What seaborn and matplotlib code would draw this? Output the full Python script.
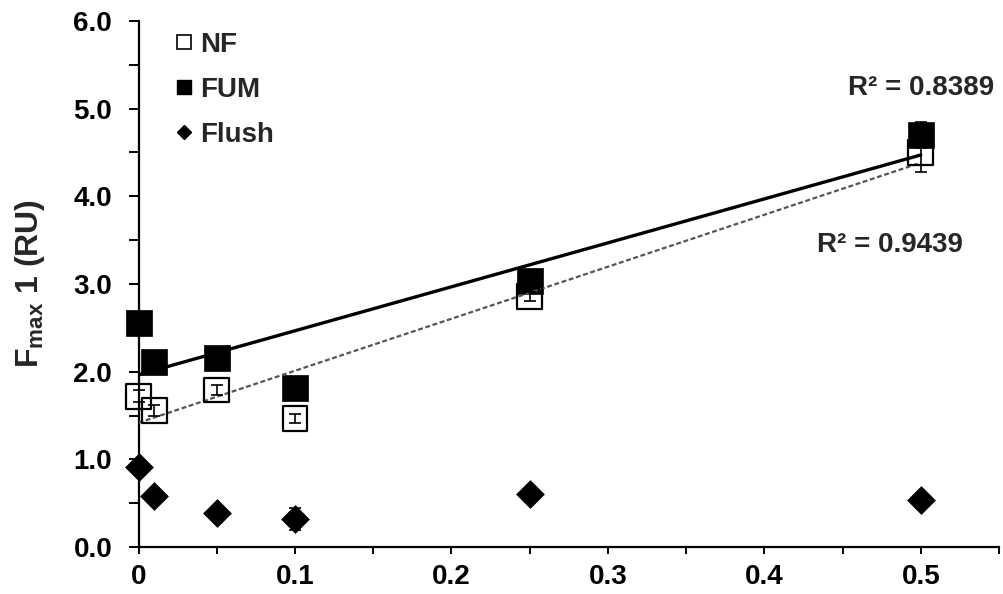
import numpy as np
import pandas as pd
import matplotlib
matplotlib.use("Agg")
import matplotlib.pyplot as plt
from matplotlib.lines import Line2D
import seaborn as sns

# Dose levels and Fmax 1 responses
dose = [0.0, 0.01, 0.05, 0.1, 0.25, 0.5]
nf_vals = [1.72, 1.56, 1.79, 1.47, 2.86, 4.50]
nf_err = [0.07, 0.065, 0.06, 0.05, 0.05, 0.22]
fum_vals = [2.55, 2.11, 2.15, 1.81, 3.03, 4.70]
fum_err = [0.08, 0.06, 0.07, 0.10, 0.12, 0.15]
flush_vals = [0.91, 0.58, 0.39, 0.32, 0.60, 0.54]
flush_err = [0.05, 0.05, 0.05, 0.12, 0.05, 0.05]

r2_fum_label = "R\u00b2 = 0.8389"
r2_nf_label = "R\u00b2 = 0.9439"
y_label = r"$\mathbf{F_{max}}$ 1 (RU)"
x_ticks = [0, 0.1, 0.2, 0.3, 0.4, 0.5]
x_ticklabels = ["0", "0.1", "0.2", "0.3", "0.4", "0.5"]
y_ticks = [0.0, 1.0, 2.0, 3.0, 4.0, 5.0, 6.0]
y_ticklabels = ["0.0", "1.0", "2.0", "3.0", "4.0", "5.0", "6.0"]

df = pd.DataFrame({"dose": dose, "NF": nf_vals, "FUM": fum_vals, "Flush": flush_vals})

sns.set_theme(style="ticks")
plt.rcParams["font.family"] = ["Liberation Sans", "DejaVu Sans"]
plt.rcParams["font.weight"] = "bold"
plt.rcParams["mathtext.fontset"] = "custom"
plt.rcParams["mathtext.rm"] = "Liberation Sans:bold"
plt.rcParams["mathtext.bf"] = "Liberation Sans:bold"
plt.rcParams["mathtext.it"] = "Liberation Sans:bold"

fig = plt.figure(figsize=(10.04, 5.94), dpi=100)
ax = fig.add_axes([0.138, 0.079, 0.857, 0.886])

# Linear trend lines
sns.regplot(data=df, x="dose", y="FUM", scatter=False, ci=None, truncate=True, ax=ax,
            line_kws=dict(color="black", lw=2.4, zorder=4))
sns.regplot(data=df, x="dose", y="NF", scatter=False, ci=None, truncate=True, ax=ax,
            line_kws=dict(color="#555555", lw=1.6, ls=(0, (2.2, 1.2)), zorder=4))

# Error bars
err_kw = dict(fmt="none", ecolor="black", elinewidth=1.2, capsize=4, capthick=1.2,
              zorder=5, clip_on=False)
ax.errorbar(dose, fum_vals, yerr=fum_err, **err_kw)
ax.errorbar(dose, nf_vals, yerr=nf_err, **err_kw)
ax.errorbar(dose, flush_vals, yerr=flush_err, **err_kw)

# Markers
sns.scatterplot(data=df, x="dose", y="FUM", marker="s", s=360, color="black",
                edgecolor="black", linewidth=0.5, ax=ax, zorder=3, clip_on=False)
sns.scatterplot(data=df, x="dose", y="NF", marker="s", s=320, facecolor="none",
                edgecolor="black", linewidth=1.6, ax=ax, zorder=6, clip_on=False)
sns.scatterplot(data=df, x="dose", y="Flush", marker="D", s=200, color="black",
                edgecolor="black", linewidth=0.5, ax=ax, zorder=3, clip_on=False)

ax.set_xlim(0, 0.55)
ax.set_ylim(0, 6.0)
ax.set_xticks(x_ticks)
ax.set_xticklabels(x_ticklabels)
ax.set_xticks(np.arange(0.05, 0.56, 0.1), minor=True)
ax.set_yticks(y_ticks)
ax.set_yticklabels(y_ticklabels)
ax.set_yticks(np.arange(0.5, 6.0, 1.0), minor=True)

ax.tick_params(axis="x", which="both", direction="out", length=5, width=1.4,
               labelsize=20, pad=7, colors="black")
ax.tick_params(axis="y", which="both", direction="out", length=7, width=1.4,
               labelsize=20, pad=12, colors="black")
for lab in ax.get_xticklabels() + ax.get_yticklabels():
    lab.set_fontweight("bold")

sns.despine(ax=ax)
for sp in ("left", "bottom"):
    ax.spines[sp].set_linewidth(1.6)
    ax.spines[sp].set_color("black")

ax.set_xlabel("")
ax.set_ylabel(y_label, fontsize=23, fontweight="bold", labelpad=19)

ax.text(0.4534, 5.23, r2_fum_label, fontsize=20, fontweight="bold", va="center", ha="left")
ax.text(0.4336, 3.44, r2_nf_label, fontsize=20, fontweight="bold", va="center", ha="left")

handles = [
    Line2D([], [], ls="none", marker="s", markersize=10, markerfacecolor="white",
           markeredgecolor="black", markeredgewidth=1.2),
    Line2D([], [], ls="none", marker="s", markersize=10, markerfacecolor="black",
           markeredgecolor="black"),
    Line2D([], [], ls="none", marker="D", markersize=7, markerfacecolor="black",
           markeredgecolor="black"),
]
ax.legend(handles, ["NF", "FUM", "Flush"], loc="upper left", bbox_to_anchor=(0.03, 1.0),
          frameon=False, prop=dict(size=20, weight="bold"), handlelength=0.6,
          handletextpad=0.3, labelspacing=0.68, borderaxespad=0)

fig.savefig("out.png", dpi=100)
